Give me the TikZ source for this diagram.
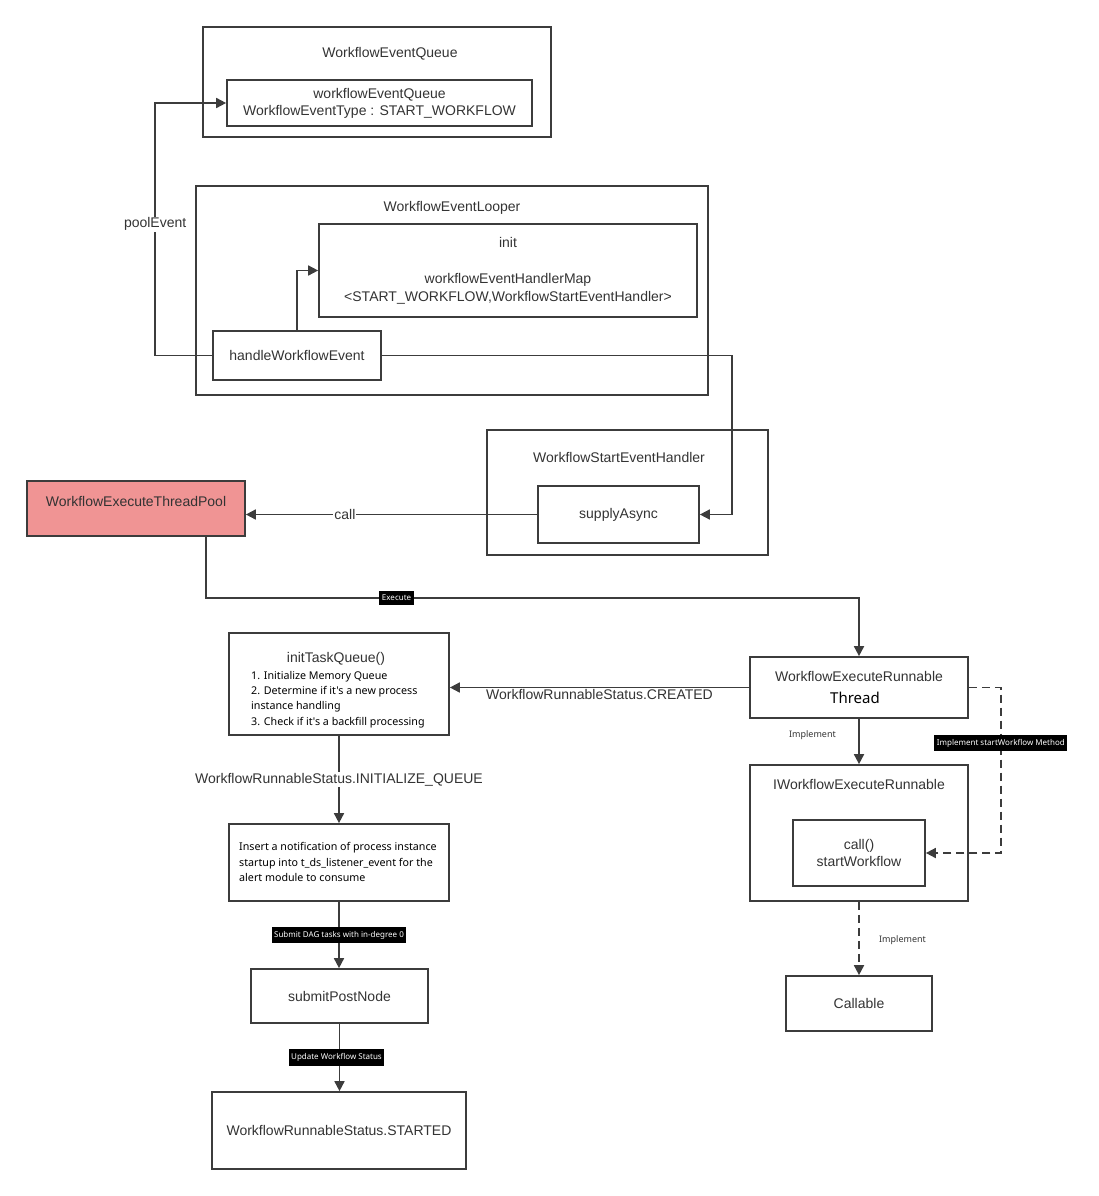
\documentclass[tikz,border=0pt]{standalone}
\usepackage{fontspec}
\setmainfont{Liberation Sans}
\newfontfamily\notefont{Noto Sans}
\usetikzlibrary{positioning}
\usetikzlibrary{arrows.meta}

\definecolor{linegray}{HTML}{3C3C3C}
\definecolor{textgray}{HTML}{333333}
\definecolor{poolred}{HTML}{F09494}

\begin{document}
\begin{tikzpicture}[%
  >={Triangle[length=10pt,width=10pt]},
  x=1pt, y=-1pt,
  every node/.style={text=textgray, font=\fontsize{14}{17}\selectfont},
  box/.style={draw=linegray, line width=1.7pt, inner sep=0pt},
  link/.style={draw=linegray, line width=1.7pt},
  dashlink/.style={link, dash pattern=on 8pt off 5pt},
  tag/.style={fill=black, text=white, font=\notefont\fontsize{8}{9}\selectfont,
    inner xsep=2.5pt, inner ysep=4pt},
  note/.style={font=\notefont\fontsize{9}{10}\selectfont},
  listtext/.style={font=\notefont\fontsize{10.7}{15.3}\selectfont, align=left,
    text=black, inner sep=0pt},
]

  \useasboundingbox (0,0) rectangle (1098,1196);

  \node[box, minimum width=348, minimum height=110] (queue) at (377,82) {};
  \node (queuetitle) at (390,54) {WorkflowEventQueue};
  \node[box, minimum width=305, minimum height=46, align=center] (qinner) at (379.5,103)
    {workflowEventQueue\\WorkflowEventType : START\_WORKFLOW};

  \node[box, minimum width=512, minimum height=209] (looper) at (452,290.5) {};
  \node (loopertitle) at (452,208) {WorkflowEventLooper};
  \node[box, minimum width=378, minimum height=93, align=center,
    font=\fontsize{14}{18}\selectfont] (init) at (508,270.5)
    {init\\[18pt]workflowEventHandlerMap\\<START\_WORKFLOW,WorkflowStartEventHandler>};
  \node[box, minimum width=168, minimum height=49] (handle) at (297,355.5) {handleWorkflowEvent};

  \node[box, minimum width=281, minimum height=125] (starthandler) at (627.5,492.5) {};
  \node (starttitle) at (619,457) {WorkflowStartEventHandler};
  \node[box, minimum width=161, minimum height=57] (supply) at (618.5,514.5) {supplyAsync};

  \node[box, fill=poolred, minimum width=218, minimum height=55] (pool) at (136,508.5) {};
  \node (pooltitle) at (136,501) {WorkflowExecuteThreadPool};

  \node[box, minimum width=218, minimum height=61, align=center] (runnable) at (859,687.5)
    {WorkflowExecuteRunnable\\[5pt]{\notefont\fontsize{15}{17}\selectfont\color{black}Thread}\hspace*{8pt}};

  \node[box, minimum width=220, minimum height=102] (inittask) at (339,684) {};
  \node (inittitle) at (336,659) {initTaskQueue()};
  \node[listtext, anchor=north west] (initlist) at (251,671)
    {1. Initialize Memory Queue\\2. Determine if it's a new process\\instance handling\\3. Check if it's a backfill processing};

  \node[box, minimum width=220, minimum height=77] (insert) at (339,862.5) {};
  \node[listtext, anchor=west] (insertlist) at (239,862)
    {Insert a notification of process instance\\startup into t\_ds\_listener\_event for the\\alert module to consume};

  \node[box, minimum width=177, minimum height=54] (submit) at (339.5,996) {submitPostNode};
  \node[box, minimum width=254, minimum height=77] (started) at (339,1130.5) {WorkflowRunnableStatus.STARTED};

  \node[box, minimum width=218, minimum height=136] (irunnable) at (859,833) {};
  \node (irunnabletitle) at (859,784) {IWorkflowExecuteRunnable};
  \node[box, minimum width=132, minimum height=66, align=center] (callbox) at (859,853)
    {call()\\startWorkflow};

  \node[box, minimum width=146, minimum height=55] (callable) at (859,1003.5) {Callable};

  \draw[link,->] (handle.west) -- ++(-57,0)
    |- node[pos=0.26, fill=white, inner sep=1pt] {poolEvent} (qinner.west);
  \draw[link,->] (handle.north) |- (init.west);
  \draw[link,->] (handle.east) -- ++(350,0) |- (supply.east);
  \draw[link,->] (supply.west) -- node[pos=0.66, fill=white, inner sep=1pt] {call} (supply.west -| pool.east);
  \draw[link,->] ([xshift=-40pt]pool.south east) -- ++(0,61)
    -| node[tag, pos=0.146] {Execute} (runnable.north);

  \draw[link,->] (runnable.west) -- node[pos=0.5, yshift=-7pt, fill=white, inner sep=1pt]
    {WorkflowRunnableStatus.CREATED} (runnable.west -| inittask.east);
  \draw[link,->] (inittask.south) -- node[fill=white, inner sep=1pt]
    {WorkflowRunnableStatus.INITIALIZE\_QUEUE} (insert.north);
  \draw[link,->] (insert.south) -- node[tag] {Submit DAG tasks with in-degree 0} (insert.south |- submit.north);
  \draw[link,->] (submit.south) -- node[tag, xshift=-3pt] {Update Workflow Status} (submit.south |- started.north);

  \draw[link,->] (runnable.south) -- node[note, pos=0.36, left=19pt] {Implement} (irunnable.north);
  \draw[dashlink,->] (runnable.east) -- ++(32,0)
    |- node[tag, pos=0.168] {Implement startWorkflow Method} (callbox.east);
  \draw[dashlink,->] (irunnable.south) -- node[note, pos=0.52, right=16pt] {Implement} (callable.north);

\end{tikzpicture}
\end{document}
